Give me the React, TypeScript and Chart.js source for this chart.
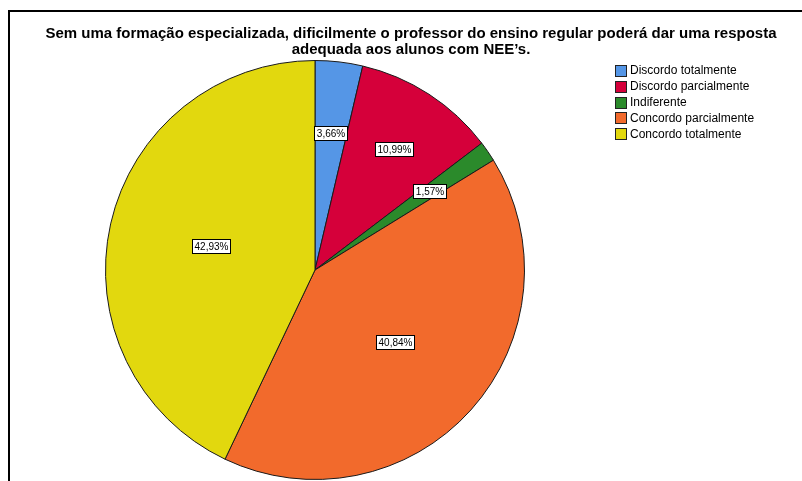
import React, { useEffect, useRef } from "react";
import { Chart, registerables } from "chart.js";

Chart.register(...registerables);

const titleLines = [
  "Sem uma formação especializada, dificilmente o professor do ensino regular poderá dar uma resposta",
  "adequada aos alunos com NEE’s.",
];
const categories = [
  "Discordo totalmente",
  "Discordo parcialmente",
  "Indiferente",
  "Concordo parcialmente",
  "Concordo totalmente",
];
const percentValues = [3.66, 10.99, 1.57, 40.84, 42.93];
const sliceColors = ["#5596E6", "#D5003A", "#2B8A2B", "#F26A2C", "#E2D80E"];
const labelRadiusFraction = [0.66, 0.69, 0.665, 0.515, 0.51];

const FONT = '"Liberation Sans", Arial, sans-serif';

const overlayPlugin = {
  id: "overlay",
  afterDraw(chart: any) {
    const ctx = chart.ctx as CanvasRenderingContext2D;
    ctx.save();
    // frame
    ctx.strokeStyle = "#000";
    ctx.lineWidth = 2;
    ctx.beginPath();
    ctx.moveTo(9, 481);
    ctx.lineTo(9, 11);
    ctx.lineTo(802, 11);
    ctx.stroke();

    // title
    ctx.fillStyle = "#000";
    ctx.font = `bold 15px ${FONT}`;
    ctx.textAlign = "center";
    ctx.textBaseline = "middle";
    ctx.fillText(titleLines[0], 411, 34);
    ctx.fillText(titleLines[1], 411, 49.5);

    // slice labels
    const meta = chart.getDatasetMeta(0);
    ctx.font = `10px ${FONT}`;
    meta.data.forEach((arc: any, i: number) => {
      const { startAngle, endAngle, x, y, outerRadius } = arc.getProps(
        ["startAngle", "endAngle", "x", "y", "outerRadius"],
        true
      );
      const mid = (startAngle + endAngle) / 2;
      const r = outerRadius * labelRadiusFraction[i];
      const cx = x + Math.cos(mid) * r;
      const cy = y + Math.sin(mid) * r;
      const text = percentValues[i].toFixed(2).replace(".", ",") + "%";
      const w = Math.ceil(ctx.measureText(text).width) + 4;
      const h = 14;
      const bx = Math.round(cx - w / 2) + 0.5;
      const by = Math.round(cy - h / 2) + 0.5;
      ctx.fillStyle = "#fff";
      ctx.fillRect(bx, by, w, h);
      ctx.strokeStyle = "#000";
      ctx.lineWidth = 1;
      ctx.strokeRect(bx, by, w, h);
      ctx.fillStyle = "#000";
      ctx.textAlign = "center";
      ctx.textBaseline = "middle";
      ctx.fillText(text, bx + w / 2, by + h / 2 + 0.5);
    });

    // legend
    ctx.font = `12px ${FONT}`;
    ctx.textAlign = "left";
    ctx.textBaseline = "middle";
    categories.forEach((c, i) => {
      const cy = 71 + i * 15.8;
      const sx = 615.5;
      const sy = Math.round(cy - 6) + 0.5;
      ctx.fillStyle = sliceColors[i];
      ctx.fillRect(sx, sy, 11, 11);
      ctx.strokeStyle = "#222";
      ctx.lineWidth = 1;
      ctx.strokeRect(sx, sy, 11, 11);
      ctx.fillStyle = "#000";
      ctx.fillText(c, 630, cy);
    });
    ctx.restore();
  },
};

export default function App() {
  const ref = useRef<HTMLCanvasElement | null>(null);
  useEffect(() => {
    if (!ref.current) return;
    const chart = new Chart(ref.current, {
      type: "pie",
      data: {
        labels: categories,
        datasets: [
          {
            data: percentValues,
            backgroundColor: sliceColors,
            borderColor: "#1a1a1a",
            borderWidth: 1,
          },
        ],
      },
      options: {
        responsive: false,
        animation: false,
        layout: { padding: { left: 105, right: 277, top: 60, bottom: 1 } },
        plugins: {
          legend: { display: false },
          title: { display: false },
          tooltip: { enabled: false },
        },
      },
      plugins: [overlayPlugin],
    });
    return () => chart.destroy();
  }, []);
  return (
    <div style={{ position: "absolute", left: 0, top: 0, width: 802, height: 481, background: "#fff" }}>
      <canvas ref={ref} width={802} height={481} style={{ display: "block" }} />
    </div>
  );
}
